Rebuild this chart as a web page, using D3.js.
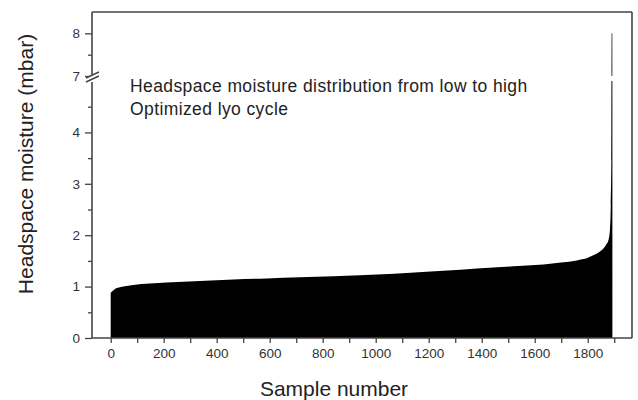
<!DOCTYPE html>
<html>
<head>
<meta charset="utf-8">
<script src="https://cdn.jsdelivr.net/npm/d3@7"></script>
<style>
  html, body { margin: 0; padding: 0; background: #fff; }
  svg { display: block; font-family: "Liberation Sans", Arial, sans-serif; }
</style>
</head>
<body>
<svg id="chart" width="638" height="400"></svg>
<script>
// ---- data ----
const sampleNumbers = [0, 4, 15, 35, 85, 211, 337, 463, 589, 714, 840, 941, 1070, 1192, 1320, 1444, 1540, 1633, 1700, 1759, 1800, 1821, 1845, 1859, 1870, 1878, 1884, 1887, 1889, 1890, 1893];
const moisture      = [0.88, 0.90, 0.95, 0.985, 1.03, 1.08, 1.11, 1.14, 1.16, 1.18, 1.20, 1.22, 1.25, 1.29, 1.33, 1.37, 1.40, 1.43, 1.47, 1.51, 1.56, 1.61, 1.68, 1.74, 1.82, 1.90, 2.13, 2.6, 3.46, 8.0, 8.0];
const xMajorTicks = [0, 200, 400, 600, 800, 1000, 1200, 1400, 1600, 1800];
const xMinorTicks = [100, 300, 500, 700, 900, 1100, 1300, 1500, 1700, 1900];
const yLowerMajor = [0, 1, 2, 3, 4];
const yLowerMinor = [0.5, 1.5, 2.5, 3.5, 4.5];
const yUpperMajor = [7, 8];
const yUpperMinor = [7.5];
const annotations = ["Headspace moisture distribution from low to high", "Optimized lyo cycle"];
const xTitle = "Sample number";
const yTitle = "Headspace moisture (mbar)";

const data = sampleNumbers.map((s, i) => ({ s, v: moisture[i] }));

const svg = d3.select("#chart");
const L = 92, R = 632, T = 12, B = 338;
const lowerTop = 81, upperBottom = 76;
const axisColor = "#444", textColor = "#333";

const x = d3.scaleLinear().domain([-70.5, 1967]).range([L, R]);
const yLow = d3.scaleLinear().domain([0, 5]).range([B, lowerTop]);
const yUp = d3.scaleLinear().domain([7, 8.5]).range([upperBottom, T]);

const defs = svg.append("defs");
defs.append("clipPath").attr("id", "clipLow").append("rect")
  .attr("x", L).attr("y", lowerTop).attr("width", R - L).attr("height", B - lowerTop);
defs.append("clipPath").attr("id", "clipUp").append("rect")
  .attr("x", L).attr("y", T).attr("width", R - L).attr("height", upperBottom - T);

const areaLow = d3.area().x(d => x(d.s)).y0(yLow(0)).y1(d => yLow(d.v)).curve(d3.curveMonotoneX);
const areaUp = d3.area().x(d => x(d.s)).y0(yUp(7)).y1(d => yUp(d.v)).curve(d3.curveMonotoneX);

svg.append("path").datum(data).attr("d", areaLow).attr("fill", "#000").attr("clip-path", "url(#clipLow)");
svg.append("path").datum(data).attr("d", areaUp).attr("fill", "#333").attr("clip-path", "url(#clipUp)");

// ---- axes ----
function styleAxis(g) {
  g.select(".domain").remove();
  g.selectAll(".tick line").attr("stroke", axisColor).attr("stroke-width", 1.3);
  g.selectAll(".tick text").attr("fill", textColor).attr("font-size", 13.5)
    .attr("font-family", "'Liberation Sans', Arial, sans-serif");
}

// x axis
svg.append("g").attr("transform", `translate(0,${B})`)
  .call(d3.axisBottom(x).tickValues(xMajorTicks).tickSize(5).tickPadding(5).tickFormat(d3.format("d")))
  .call(styleAxis);
svg.append("g").attr("transform", `translate(0,${B})`)
  .call(d3.axisBottom(x).tickValues(xMinorTicks).tickSize(5).tickFormat(""))
  .call(styleAxis);

// y lower
svg.append("g").attr("transform", `translate(${L},0)`)
  .call(d3.axisLeft(yLow).tickValues(yLowerMajor).tickSize(7).tickPadding(5).tickFormat(d3.format("d")))
  .call(styleAxis);
svg.append("g").attr("transform", `translate(${L},0)`)
  .call(d3.axisLeft(yLow).tickValues(yLowerMinor).tickSize(4).tickFormat(""))
  .call(styleAxis);
// y upper
svg.append("g").attr("transform", `translate(${L},0)`)
  .call(d3.axisLeft(yUp).tickValues(yUpperMajor).tickSize(7).tickPadding(5).tickFormat(d3.format("d")))
  .call(styleAxis);
svg.append("g").attr("transform", `translate(${L},0)`)
  .call(d3.axisLeft(yUp).tickValues(yUpperMinor).tickSize(4).tickFormat(""))
  .call(styleAxis);

// frame lines
const frame = svg.append("g").attr("stroke", axisColor).attr("stroke-width", 1.6).attr("fill", "none");
frame.append("line").attr("x1", L).attr("x2", R).attr("y1", B).attr("y2", B);
frame.append("line").attr("x1", L).attr("x2", R).attr("y1", T).attr("y2", T);
frame.append("line").attr("x1", R).attr("x2", R).attr("y1", T).attr("y2", B);
frame.append("line").attr("x1", L).attr("x2", L).attr("y1", T).attr("y2", upperBottom - 1);
frame.append("line").attr("x1", L).attr("x2", L).attr("y1", lowerTop + 1).attr("y2", B);

// break symbol
const brk = svg.append("g");
brk.append("path").attr("d", "M86,78 L99,72 L99,76 L86,82 Z").attr("fill", "#fff");
brk.append("line").attr("x1", 86).attr("y1", 78).attr("x2", 99).attr("y2", 72).attr("stroke", axisColor).attr("stroke-width", 1.4);
brk.append("line").attr("x1", 86).attr("y1", 82).attr("x2", 99).attr("y2", 76).attr("stroke", axisColor).attr("stroke-width", 1.4);

// annotations
svg.selectAll("text.ann").data(annotations).enter().append("text")
  .attr("class", "ann")
  .attr("x", 130).attr("y", (d, i) => 92 + i * 23)
  .attr("font-size", 17.5).attr("letter-spacing", 0.4).attr("fill", "#222")
  .text(d => d);

// titles
svg.append("text").attr("x", 334).attr("y", 396).attr("text-anchor", "middle")
  .attr("font-size", 21).attr("fill", "#222").text(xTitle);
svg.append("text").attr("transform", "translate(33,164) rotate(-90)").attr("text-anchor", "middle")
  .attr("font-size", 21).attr("fill", "#222").text(yTitle);
</script>
</body>
</html>
